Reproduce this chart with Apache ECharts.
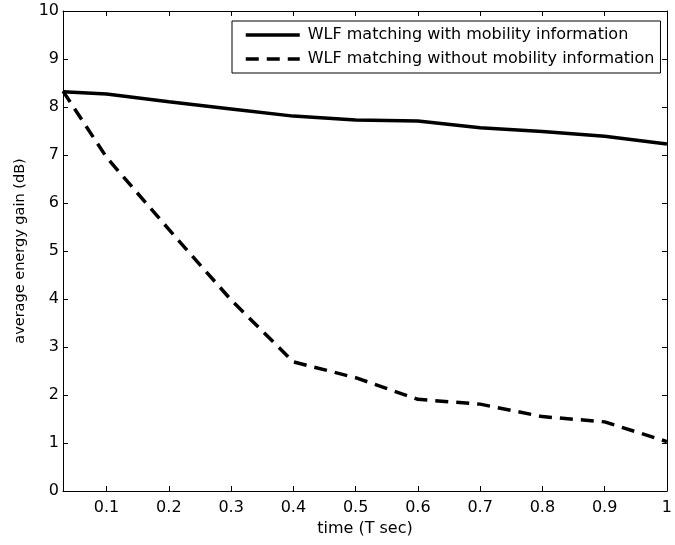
<!DOCTYPE html>
<html>
<head>
<meta charset="utf-8">
<script src="https://cdn.jsdelivr.net/npm/echarts@6/dist/echarts.min.js"></script>
<style>
html,body{margin:0;padding:0;background:#fff;}
#chart{width:675px;height:545px;}
</style>
</head>
<body>
<div id="chart"></div>
<script>
// Data
const timeValues = [0.03, 0.1, 0.2, 0.3, 0.4, 0.5, 0.6, 0.7, 0.8, 0.9, 1.0];
const withMobility = [8.32, 8.27, 8.11, 7.96, 7.81, 7.73, 7.71, 7.57, 7.49, 7.39, 7.23];
const withoutMobility = [8.33, 6.95, 5.45, 3.98, 2.69, 2.36, 1.91, 1.81, 1.55, 1.44, 1.03];
const xTickValues = [0.1, 0.2, 0.3, 0.4, 0.5, 0.6, 0.7, 0.8, 0.9, 1];
const xTickLabels = ['0.1', '0.2', '0.3', '0.4', '0.5', '0.6', '0.7', '0.8', '0.9', '1'];
const seriesNames = ['WLF matching with mobility information', 'WLF matching without mobility information'];
const xTitle = 'time (T sec)';
const yTitle = 'average energy gain (dB)';

const FONT = 'DejaVu Sans';
const chart = echarts.init(document.getElementById('chart'), null, {renderer: 'canvas'});

const pairs = (ys) => timeValues.map((x, i) => [x, ys[i]]);

const xBase = {
  type: 'value', min: 0.03, max: 1,
  axisLine: {show: true, onZero: false, lineStyle: {color: '#000', width: 1}},
  splitLine: {show: false}
};
const yBase = {
  type: 'value', min: 0, max: 10, interval: 1,
  axisLine: {show: true, onZero: false, lineStyle: {color: '#000', width: 1}},
  splitLine: {show: false}
};

chart.setOption({
  animation: false,
  backgroundColor: '#fff',
  grid: {left: 63, right: 3, top: 11, bottom: 54, containLabel: false},
  xAxis: [
    Object.assign({}, xBase, {
      position: 'bottom',
      name: xTitle, nameLocation: 'middle', nameGap: 28,
      nameTextStyle: {fontFamily: FONT, fontSize: 16, color: '#000'},
      axisTick: {show: true, inside: true, length: 5, customValues: xTickValues, lineStyle: {color: '#000'}},
      axisLabel: {
        show: true, margin: 9, customValues: xTickValues,
        fontFamily: FONT, fontSize: 16, color: '#000',
        formatter: (v) => { const i = xTickValues.findIndex(t => Math.abs(t - v) < 1e-9); return i >= 0 ? xTickLabels[i] : ''; }
      }
    }),
    Object.assign({}, xBase, {
      position: 'top',
      axisTick: {show: true, inside: true, length: 5, customValues: xTickValues, lineStyle: {color: '#000'}},
      axisLabel: {show: false}
    })
  ],
  yAxis: [
    Object.assign({}, yBase, {
      position: 'left',
      name: yTitle, nameLocation: 'middle', nameGap: 30,
      nameTextStyle: {fontFamily: FONT, fontSize: 14.5, color: '#000'},
      axisTick: {show: true, inside: true, length: 5, lineStyle: {color: '#000'}},
      axisLabel: {show: true, margin: 4, fontFamily: FONT, fontSize: 16, color: '#000'}
    }),
    Object.assign({}, yBase, {
      position: 'right',
      axisTick: {show: true, inside: true, length: 5, lineStyle: {color: '#000'}},
      axisLabel: {show: false}
    })
  ],
  legend: {
    orient: 'vertical', left: 232, top: 21,
    padding: [6, 6, 6, 12],
    itemWidth: 54, itemHeight: 16, itemGap: 8,
    borderColor: '#000', borderWidth: 1, backgroundColor: '#fff',
    itemStyle: {opacity: 0},
    lineStyle: {width: 3.5},
    textStyle: {fontFamily: FONT, fontSize: 16, color: '#000', padding: [0, 0, 0, 3]},
    data: seriesNames
  },
  series: [
    {
      name: seriesNames[0], type: 'line', xAxisIndex: 0, yAxisIndex: 0,
      data: pairs(withMobility), symbol: 'none', showSymbol: false,
      lineStyle: {color: '#000', width: 3.5, type: 'solid'},
      itemStyle: {color: '#000'}
    },
    {
      name: seriesNames[1], type: 'line', xAxisIndex: 0, yAxisIndex: 0,
      data: pairs(withoutMobility), symbol: 'none', showSymbol: false,
      lineStyle: {color: '#000', width: 3.5, type: [13, 8]},
      itemStyle: {color: '#000'}
    }
  ]
});
</script>
</body>
</html>
